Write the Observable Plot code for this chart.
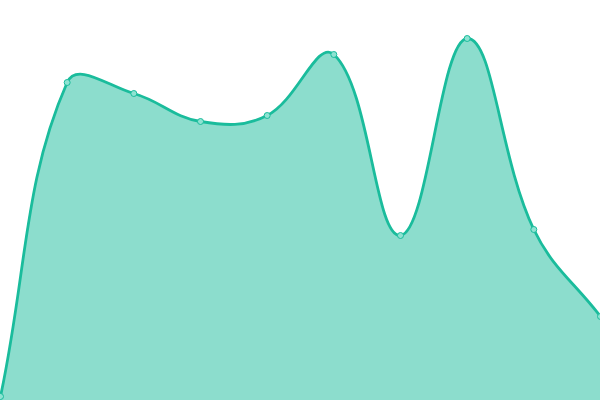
<!DOCTYPE html>
<html>
<head>
<meta charset="utf-8">
<script src="https://cdn.jsdelivr.net/npm/d3@7"></script>
<script src="https://cdn.jsdelivr.net/npm/@observablehq/plot@0.6"></script>
<style>
html, body { margin: 0; padding: 0; background: #fff; overflow: hidden; }
svg { display: block; }
</style>
</head>
<body>
<div id="chart"></div>
<script>
const steps = [0, 1, 2, 3, 4, 5, 6, 7, 8, 9];
const values = [1, 79.5, 76.75, 69.75, 71.25, 86.5, 41.25, 90.5, 42.75, 21];

const data = steps.map((s, i) => ({x: s, y: values[i]}));

// Spline with distance-weighted control points (tension 0.4), computed in pixel space
function splineCurve(context) { return new Spline(context, 0.4); }
class Spline {
  constructor(context, t) { this._context = context; this._t = t; }
  areaStart() { this._line = 0; }
  areaEnd() { this._line = NaN; }
  lineStart() { this._pts = []; }
  point(x, y) { this._pts.push([+x, +y]); }
  lineEnd() {
    const p = this._pts, n = p.length, c = this._context, t = this._t;
    if (n) {
      if (this._line) c.lineTo(p[0][0], p[0][1]); else c.moveTo(p[0][0], p[0][1]);
      const cpPrev = [], cpNext = [];
      for (let i = 0; i < n; i++) {
        const prev = p[i - 1] || p[i], cur = p[i], next = p[i + 1] || p[i];
        const d01 = Math.hypot(cur[0] - prev[0], cur[1] - prev[1]);
        const d12 = Math.hypot(next[0] - cur[0], next[1] - cur[1]);
        let s01 = d01 / (d01 + d12), s12 = d12 / (d01 + d12);
        if (isNaN(s01)) s01 = 0;
        if (isNaN(s12)) s12 = 0;
        const fa = t * s01, fb = t * s12;
        cpPrev[i] = [cur[0] - fa * (next[0] - prev[0]), cur[1] - fa * (next[1] - prev[1])];
        cpNext[i] = [cur[0] + fb * (next[0] - prev[0]), cur[1] + fb * (next[1] - prev[1])];
      }
      for (let i = 1; i < n; i++) {
        c.bezierCurveTo(cpNext[i - 1][0], cpNext[i - 1][1], cpPrev[i][0], cpPrev[i][1], p[i][0], p[i][1]);
      }
    }
    if (this._line || (this._line !== 0 && n === 1)) c.closePath();
    this._line = 1 - this._line;
  }
}

const chart = Plot.plot({
  width: 600,
  height: 400,
  margin: 0,
  x: {domain: [0, 9], axis: null},
  y: {domain: [0, 100], axis: null},
  style: {background: "transparent", overflow: "hidden"},
  marks: [
    Plot.areaY(data, {x: "x", y: "y", curve: splineCurve, fill: "#1abc9c", fillOpacity: 0.5}),
    Plot.lineY(data, {x: "x", y: "y", curve: splineCurve, stroke: "#1abc9c", strokeWidth: 2.8}),
    Plot.dot(data, {x: "x", y: "y", r: 3, fill: "#8ee3d2", stroke: "#1abc9c", strokeWidth: 1})
  ]
});
document.getElementById("chart").appendChild(chart);
</script>
</body>
</html>
